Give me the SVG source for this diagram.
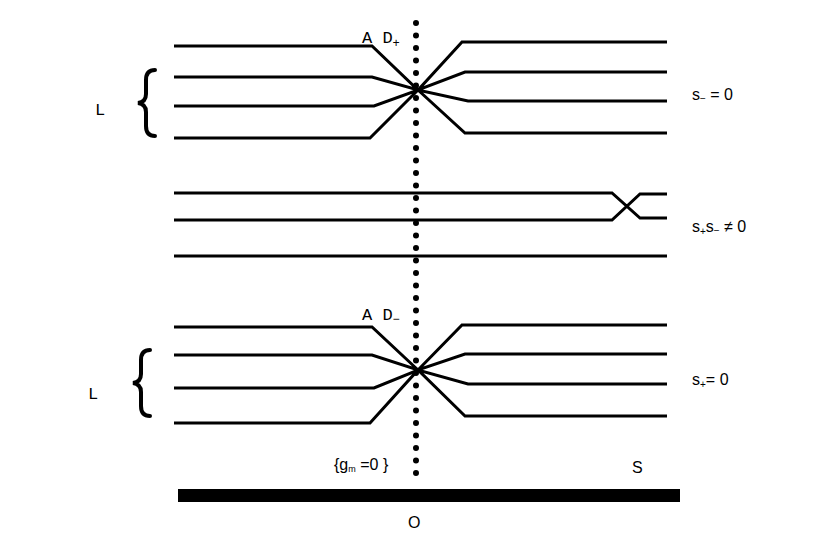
<svg xmlns="http://www.w3.org/2000/svg" width="830" height="556" viewBox="0 0 830 556">
<style>
.l{fill:none;stroke:#000;stroke-width:3}
.br{fill:none;stroke:#000;stroke-width:4;stroke-linecap:round}
.m{font-family:"Liberation Mono","Courier New",monospace;font-size:17px}
.s{font-family:"Liberation Sans",sans-serif;font-size:16px}
</style>
<rect width="830" height="556" fill="#fff"/>
<g id="axis"><line x1="416" y1="23" x2="416" y2="484" stroke="#000" stroke-width="6" stroke-linecap="round" stroke-dasharray="0 12.5"/></g>
<g id="connectors">
<path class="l" d="M174 46H372L418 90L462 42H667M174 77H372L418 90L465 72H667M174 106H374L418 90L468 101H667M174 138H370L418 90L465 133H667"/>
<path class="l" d="M174 193H612L640 218H667M174 220H612L640 194H667M174 256H667"/>
<path class="l" d="M174 327H372L418 370L462 325H667M174 355H372L418 370L465 354H667M174 388H374L418 370L468 384H667M174 423H370L418 370L465 416H667"/>
</g>
<g id="braces">
<path class="br" d="M155 70Q146 70 146 80V94Q146 102 138 103Q146 104 146 112V126Q146 136 155 136"/>
<path class="br" d="M150 350Q141 350 141 360V374Q141 382 133 383Q141 384 141 392V406Q141 416 150 416"/>
</g>
<g id="ground"><rect x="178" y="489" width="502" height="13" fill="#000"/></g>
<g id="labels">
<text class="m" x="95" y="115">L</text>
<text class="m" x="362" y="43">A D<tspan font-size="12" dy="4">+</tspan></text>
<text class="s" x="692" y="100">s<tspan font-size="10" dy="2">−</tspan><tspan dy="-2"> = 0</tspan></text>
<text class="s" x="692" y="232">s<tspan font-size="10" dy="3">+</tspan><tspan dy="-3">s</tspan><tspan font-size="10" dy="2">−</tspan><tspan dy="-2"> ≠ 0</tspan></text>
<text class="m" x="362" y="320">A D<tspan font-size="12" dy="3">−</tspan></text>
<text class="m" x="88" y="399">L</text>
<text class="s" x="692" y="385">s<tspan font-size="10" dy="3">+</tspan><tspan dy="-3">= 0</tspan></text>
<text class="s" x="334" y="470" font-size="14">{g<tspan font-size="9" dy="2">m</tspan><tspan dy="-2"> =0 }</tspan></text>
<text class="s" x="632" y="473" font-size="22">S</text>
<text class="s" x="408" y="528" font-size="17">O</text>
</g>
</svg>
